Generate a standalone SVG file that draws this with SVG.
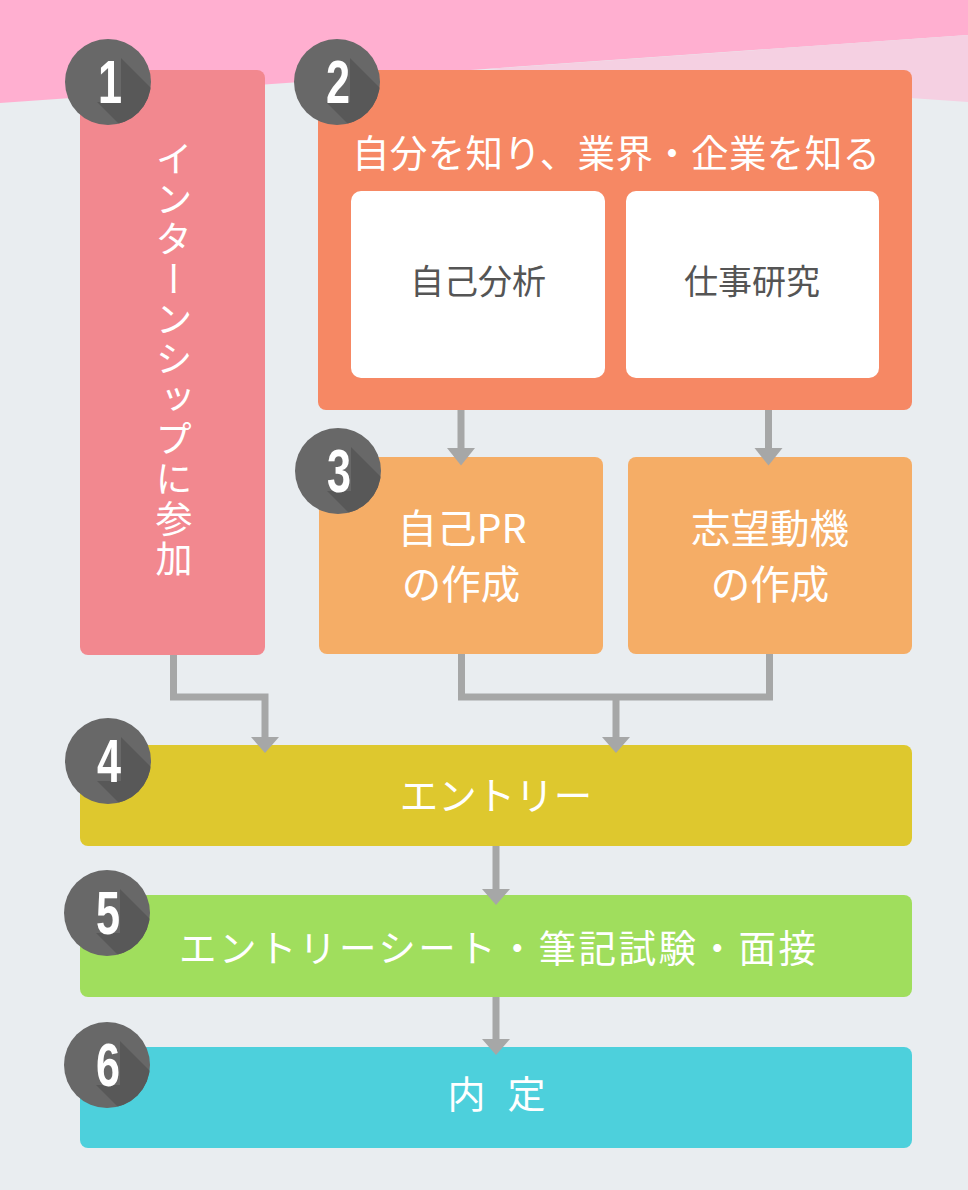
<svg xmlns="http://www.w3.org/2000/svg" xmlns:xlink="http://www.w3.org/1999/xlink" width="968" height="1190" viewBox="0 0 968 1190">
<style>
.t{font-family:"Noto Sans CJK JP","Noto Sans",sans-serif;fill:#fff;text-anchor:middle}
.d{font-family:"Noto Sans CJK JP","Noto Sans",sans-serif;fill:#555;text-anchor:middle}
.num{font-family:"Liberation Sans","DejaVu Sans",sans-serif;font-weight:bold;font-size:60px;fill:#fff;text-anchor:middle}
.ln{fill:none;stroke:#a6a7a7;stroke-width:7;stroke-linejoin:miter}
.ah{fill:#a6a7a7}
</style>
<defs>
<clipPath id="bc"><circle cx="0" cy="0" r="43"/></clipPath>
<g id="badge">
<circle cx="0" cy="0" r="43" fill="#686868"/>
<polygon points="-11,20 13,20 13,-24 73,36 73,80 49,80" fill="#585858" clip-path="url(#bc)"/>
</g>
</defs>
<rect width="968" height="1190" fill="#e9edf0"/>
<polygon points="0,0 968,0 968,35 0,103" fill="#ffafd0"/>
<polygon points="487,69 968,35 968,102" fill="#f5d0e2"/>

<g id="node1">
<rect x="80" y="70" width="185" height="585" rx="8" fill="#f2888f"/>
<text class="t" x="174" y="140" font-size="37" letter-spacing="3" style="writing-mode:vertical-rl;text-anchor:start">インターンシップに参加</text>
</g>
<g id="node2">
<rect x="318" y="70" width="594" height="340" rx="8" fill="#f68864"/>
<text class="t" x="616" y="167" font-size="37.5" textLength="528" lengthAdjust="spacing">自分を知り、業界・企業を知る</text>
</g>
<g id="node2a">
<rect x="351" y="191" width="254" height="187" rx="10" fill="#fff"/>
<text class="d" x="478" y="294" font-size="34">自己分析</text>
</g>
<g id="node2b">
<rect x="626" y="191" width="253" height="187" rx="10" fill="#fff"/>
<text class="d" x="752" y="294" font-size="34">仕事研究</text>
</g>
<g id="node3a">
<rect x="319" y="457" width="284" height="197" rx="8" fill="#f5ad66"/>
<text class="t" x="462" y="543" font-size="39.5">自己PR</text>
<text class="t" x="461" y="599" font-size="39.5">の作成</text>
</g>
<g id="node3b">
<rect x="628" y="457" width="284" height="197" rx="8" fill="#f5ad66"/>
<text class="t" x="770" y="543" font-size="39.5">志望動機</text>
<text class="t" x="770" y="599" font-size="39.5">の作成</text>
</g>
<g id="node4">
<rect x="80" y="745" width="832" height="101" rx="8" fill="#dec82e"/>
<text class="t" x="496" y="810" font-size="38.5">エントリー</text>
</g>
<g id="node5">
<rect x="80" y="895" width="832" height="102" rx="8" fill="#a0de5d"/>
<text class="t" x="497.5" y="962" font-size="37.5" textLength="637" lengthAdjust="spacing">エントリーシート・筆記試験・面接</text>
</g>
<g id="node6">
<rect x="80" y="1047" width="832" height="101" rx="8" fill="#4dd0dc"/>
<text class="t" x="496.5" y="1108" font-size="38" textLength="98" lengthAdjust="spacing">内 定</text>
</g>

<g id="connectors">
<path class="ln" d="M173.5 655 V697 H265 V738"/>
<polygon class="ah" points="251,737 279,737 265,753"/>
<path class="ln" d="M461.5 654 V697 H769.5 V654"/>
<path class="ln" d="M616 697 V738"/>
<polygon class="ah" points="602,737 630,737 616,753"/>
<path class="ln" d="M461 410 V449"/>
<polygon class="ah" points="447,448 475,448 461,465.5"/>
<path class="ln" d="M768.5 410 V449"/>
<polygon class="ah" points="754.5,448 782.5,448 768.5,465.5"/>
<path class="ln" d="M496 846 V890"/>
<polygon class="ah" points="482,889 510,889 496,905"/>
<path class="ln" d="M496 997 V1040"/>
<polygon class="ah" points="482,1039 510,1039 496,1055"/>
</g>

<g id="badge1"><use xlink:href="#badge" x="108" y="82"/><text class="num" transform="translate(110,103) scale(0.72,1.02)">1</text></g>
<g id="badge2"><use xlink:href="#badge" x="337" y="82"/><text class="num" transform="translate(338,103) scale(0.72,1.02)">2</text></g>
<g id="badge3"><use xlink:href="#badge" x="338" y="471"/><text class="num" transform="translate(339,492) scale(0.72,1.02)">3</text></g>
<g id="badge4"><use xlink:href="#badge" x="108" y="761"/><text class="num" transform="translate(109,782) scale(0.72,1.02)">4</text></g>
<g id="badge5"><use xlink:href="#badge" x="107" y="913"/><text class="num" transform="translate(108,934) scale(0.72,1.02)">5</text></g>
<g id="badge6"><use xlink:href="#badge" x="107" y="1065"/><text class="num" transform="translate(108,1086) scale(0.72,1.02)">6</text></g>
</svg>
